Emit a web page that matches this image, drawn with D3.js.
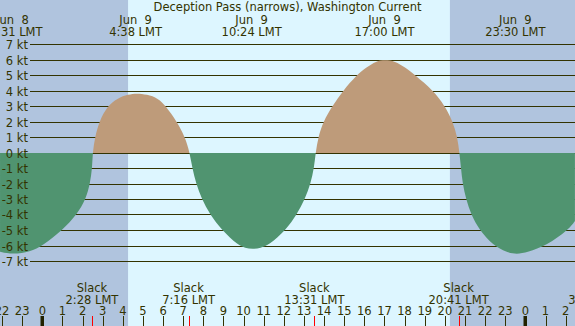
<!DOCTYPE html>
<html>
<head>
<meta charset="utf-8">
<script src="https://cdn.jsdelivr.net/npm/d3@7"></script>
<style>
  body { margin: 0; }
  svg { display: block; }
  text { font-family: "DejaVu Sans", sans-serif; font-size: 11.5px; fill: #333300; white-space: pre; }
</style>
</head>
<body>
<svg id="chart" width="575" height="326"></svg>
<script>
const title = 'Deception Pass (narrows), Washington Current';

// hours from Jun 9 00:00 LMT, current in knots
const curveHours = [-2.10, -1.45, -0.61, 0.03, 1.01, 1.72, 2.17, 2.37, 2.48, 2.50,
  2.62, 2.83, 3.23, 3.73, 4.27, 4.69, 5.19, 5.76, 6.13, 6.68, 7.09, 7.32,
  7.45, 7.64, 7.92, 8.33, 8.91, 9.74, 10.07, 10.45, 10.85, 11.23, 12.11, 12.64, 13.05, 13.33, 13.50, 13.58,
  13.71, 13.96, 14.41, 14.95, 15.62, 16.11, 16.58, 17.02, 17.52, 18.02, 18.51, 19.42, 20.00, 20.39, 20.62, 20.72,
  20.80, 20.88, 21.05, 21.30, 21.71, 22.40, 23.07, 23.57, 24.09, 25.06, 26.13, 26.46];
const curveKnots = [-6.40, -6.58, -6.40, -6.0, -5.0, -4.0, -3.0, -2.0, -1.0, 0,
  1.0, 2.0, 3.0, 3.5, 3.75, 3.82, 3.75, 3.5, 3.0, 2.0, 1.0, 0,
  -1, -2, -3, -4, -5, -6, -6.15, -6.25, -6.15, -6, -5, -4, -3, -2, -1, 0,
  1, 2, 3, 4, 5, 5.5, 5.9, 5.97, 5.9, 5.5, 5, 4, 3, 2, 1, 0,
  -1, -2, -3, -4, -5, -6, -6.45, -6.57, -6.45, -6, -5, -4.42];

const peakHours = [-1.483, 4.633, 10.4, 17.0, 23.5];
const peakDates = ['Jun  8', 'Jun  9', 'Jun  9', 'Jun  9', 'Jun  9'];
const peakTimes = ['22:31 LMT', '4:38 LMT', '10:24 LMT', '17:00 LMT', '23:30 LMT'];

const slackHours = [2.467, 7.267, 13.517, 20.683];
const slackTimes = ['2:28 LMT', '7:16 LMT', '13:31 LMT', '20:41 LMT'];

const sunrise = 4.26;
const sunset = 20.25;

const knotTicks = d3.range(-7, 8);
const hourTicks = d3.range(-2, 28);

const width = 575, height = 326;
const ink = '#333300';

const svg = d3.select('#chart');

const x = d3.scaleLinear().domain([0, 24]).range([42.3, 525.4]);
const y = d3.scaleLinear().domain([-7, 7]).range([261, 44]);

// Night / day background
svg.append('rect').attr('width', width).attr('height', height).attr('fill', '#b0c4de');
svg.append('rect')
  .attr('x', x(sunrise)).attr('y', 0)
  .attr('width', x(sunset) - x(sunrise)).attr('height', height)
  .attr('fill', '#ddf6ff');

// Grid lines (under the fills)
knotTicks.forEach(k => {
  const yy = Math.round(y(k)) + 0.5;
  svg.append('line')
    .attr('x1', 30).attr('x2', width)
    .attr('y1', yy).attr('y2', yy)
    .attr('stroke', ink).attr('stroke-width', 1);
});

// Flood / ebb fills
const points = curveHours.map((h, i) => ({ h, v: curveKnots[i] }));
const zeroY = Math.round(y(0));
const area = d3.area()
  .x(d => x(d.h))
  .y0(zeroY)
  .y1(d => y(d.v))
  .curve(d3.curveBasis);

const defs = svg.append('defs');
defs.append('clipPath').attr('id', 'floodClip')
  .append('rect').attr('x', 0).attr('y', 0).attr('width', width).attr('height', zeroY);
defs.append('clipPath').attr('id', 'ebbClip')
  .append('rect').attr('x', 0).attr('y', zeroY).attr('width', width).attr('height', height - zeroY);

svg.append('path').datum(points)
  .attr('d', area).attr('fill', '#be9b7a')
  .attr('clip-path', 'url(#floodClip)');
svg.append('path').datum(points)
  .attr('d', area).attr('fill', '#509470')
  .attr('clip-path', 'url(#ebbClip)');

// Knot labels (on top)
knotTicks.forEach(k => {
  svg.append('text')
    .attr('x', 28).attr('y', Math.round(y(k)) + 4.5)
    .attr('text-anchor', 'end')
    .text(`${k} kt`);
});

// Title
svg.append('text')
  .attr('x', width / 2).attr('y', 11)
  .attr('text-anchor', 'middle')
  .text(title);

// Max current labels
peakHours.forEach((h, i) => {
  svg.append('text').attr('x', x(h)).attr('y', 23.5)
    .attr('text-anchor', 'middle').text(peakDates[i]);
  svg.append('text').attr('x', x(h)).attr('y', 35.5)
    .attr('text-anchor', 'middle').text(peakTimes[i]);
});

// Slack labels
slackHours.forEach((h, i) => {
  svg.append('text').attr('x', x(h)).attr('y', 291.5)
    .attr('text-anchor', 'middle').text('Slack');
  svg.append('text').attr('x', x(h)).attr('y', 303.5)
    .attr('text-anchor', 'middle').text(slackTimes[i]);
});

// Hour ticks
hourTicks.forEach(h => {
  const label = ((h % 24) + 24) % 24;
  let xx = x(h);
  let ly = 315;
  if (xx > width - 4) { xx = width - 3; ly = 303.5; }
  svg.append('text').attr('x', xx).attr('y', ly)
    .attr('text-anchor', 'middle').text(label);
  if (label === 0) {
    svg.append('rect').attr('x', Math.round(x(h)) - 1.5).attr('y', 316)
      .attr('width', 3.5).attr('height', 10).attr('fill', '#222200');
  } else {
    svg.append('line')
      .attr('x1', Math.round(x(h)) + 0.5).attr('x2', Math.round(x(h)) + 0.5)
      .attr('y1', 316).attr('y2', height)
      .attr('stroke', ink).attr('stroke-width', 1);
  }
});

// Slack markers
slackHours.forEach(h => {
  svg.append('line')
    .attr('x1', Math.round(x(h)) + 0.5).attr('x2', Math.round(x(h)) + 0.5)
    .attr('y1', 316).attr('y2', height)
    .attr('stroke', '#ff0000').attr('stroke-width', 1);
});
</script>
</body>
</html>
